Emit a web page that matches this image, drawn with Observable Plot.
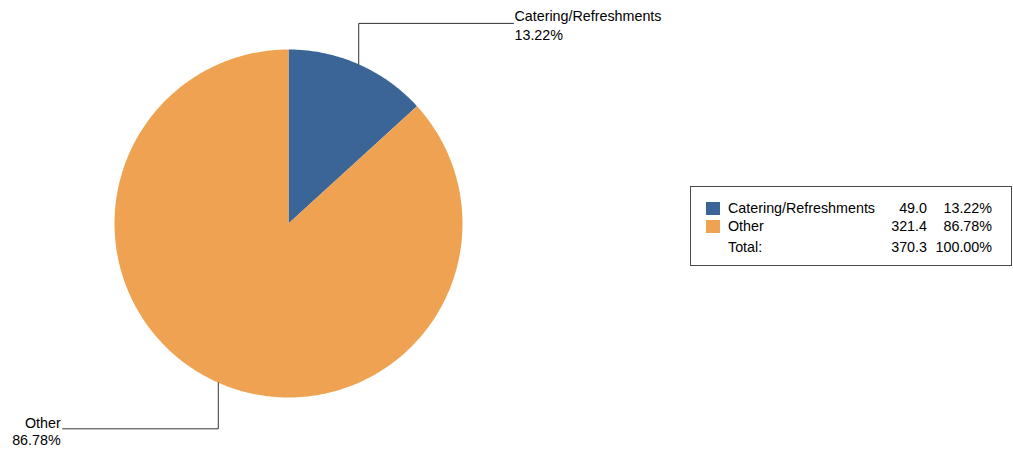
<!DOCTYPE html>
<html><head><meta charset="utf-8">
<script src="https://cdn.jsdelivr.net/npm/d3@7"></script>
<script src="https://cdn.jsdelivr.net/npm/@observablehq/plot@0.6"></script>
<style>
body{margin:0;background:#fff;font-family:"Liberation Sans",Arial,sans-serif;}
#wrap{position:relative;width:1013px;height:452px;}
#legend{position:absolute;left:690px;top:186px;width:322px;height:80px;box-sizing:border-box;border:1px solid #4a4a4a;font-size:14.3px;color:#000;}
#legend div{position:absolute;white-space:nowrap;line-height:18px;height:18px;}
#legend .sw{width:14px;height:13px;line-height:13px;}
</style></head><body><div id="wrap"></div>
<script>
const categories = ["Catering/Refreshments", "Other"];
const values = [49.0, 321.4];
const percents = [13.22, 86.78];
const totalLabel = "Total:";
const totalValue = 370.3;
const totalPercent = 100.00;
const colors = ["#3b6596", "#efa352"];

// slice geometry in unit-circle coordinates (angle clockwise from 12 o'clock)
const arcs = d3.pie().sort(null).value(d => d)(percents);
const sliceData = [];
arcs.forEach((a, i) => {
  const cat = categories[i];
  sliceData.push({cat, x: 0, y: 0});
  const n = Math.max(2, Math.ceil((a.endAngle - a.startAngle) / (Math.PI / 360)));
  for (let k = 0; k <= n; k++) {
    const t = a.startAngle + (a.endAngle - a.startAngle) * k / n;
    sliceData.push({cat, x: Math.sin(t), y: Math.cos(t)});
  }
  sliceData.push({cat, x: 0, y: 0});
});

// leader lines: from arc midpoint vertically out, then horizontally
const leaderData = [];
const labelData = [];
arcs.forEach((a, i) => {
  const cat = categories[i];
  const mid = (a.startAngle + a.endAngle) / 2;
  const px = Math.sin(mid), py = Math.cos(mid);
  const up = py > 0, right = px > 0;
  const ey = up ? 1.15 : -1.18;
  const ex = right ? 1.293 : -1.298;
  leaderData.push({cat, x: px, y: py}, {cat, x: px, y: ey}, {cat, x: ex, y: ey});
  labelData.push({cat, x: ex, y: ey, right, text: cat + "\n" + percents[i].toFixed(2) + "%"});
});

const chart = Plot.plot({
  width: 1013,
  height: 452,
  margin: 0,
  style: {fontFamily: "'Liberation Sans', Arial, sans-serif", background: "#fff"},
  x: {domain: [-1, 1], range: [114, 462], axis: null},
  y: {domain: [-1, 1], range: [397, 49], axis: null},
  color: {domain: categories, range: colors},
  marks: [
    Plot.line(sliceData, {x: "x", y: "y", z: "cat", fill: "cat", stroke: "none"}),
    Plot.line(leaderData, {x: "x", y: "y", z: "cat", stroke: "#333", strokeWidth: 1}),
    Plot.text(labelData.filter(d => d.right), {x: "x", y: "y", text: "text", textAnchor: "start", lineAnchor: "top", dx: 1, dy: -15, fontSize: 14.3, lineHeight: 1.28, fill: "#000"}),
    Plot.text(labelData.filter(d => !d.right), {x: "x", y: "y", text: "text", textAnchor: "end", lineAnchor: "top", dx: -2, dy: -13, fontSize: 14.3, lineHeight: 1.18, fill: "#000"})
  ]
});
const wrap = document.getElementById("wrap");
wrap.appendChild(chart);

// legend (HTML, positioned beside the chart)
const legend = document.createElement("div");
legend.id = "legend";
const rowsTop = [11.8, 29.8];
categories.forEach((c, i) => {
  const sw = document.createElement("div");
  sw.className = "sw";
  sw.style.left = "15px"; sw.style.top = (rowsTop[i] + 3.4) + "px";
  sw.style.background = colors[i];
  legend.appendChild(sw);
  const name = document.createElement("div");
  name.style.left = "37px"; name.style.top = rowsTop[i] + "px"; name.textContent = c;
  legend.appendChild(name);
  const v = document.createElement("div");
  v.style.left = "156px"; v.style.width = "80px"; v.style.textAlign = "right"; v.style.top = rowsTop[i] + "px";
  v.textContent = values[i].toFixed(1);
  legend.appendChild(v);
  const p = document.createElement("div");
  p.style.left = "221px"; p.style.width = "80px"; p.style.textAlign = "right"; p.style.top = rowsTop[i] + "px";
  p.textContent = percents[i].toFixed(2) + "%";
  legend.appendChild(p);
});
const tTop = 50.8;
[[totalLabel, "37px", null], [totalValue.toFixed(1), "156px", "80px"], [totalPercent.toFixed(2) + "%", "221px", "80px"]].forEach(([t, l, w]) => {
  const d = document.createElement("div");
  d.style.left = l; d.style.top = tTop + "px"; d.textContent = t;
  if (w) { d.style.width = w; d.style.textAlign = "right"; }
  legend.appendChild(d);
});
wrap.appendChild(legend);
</script>
</body></html>
